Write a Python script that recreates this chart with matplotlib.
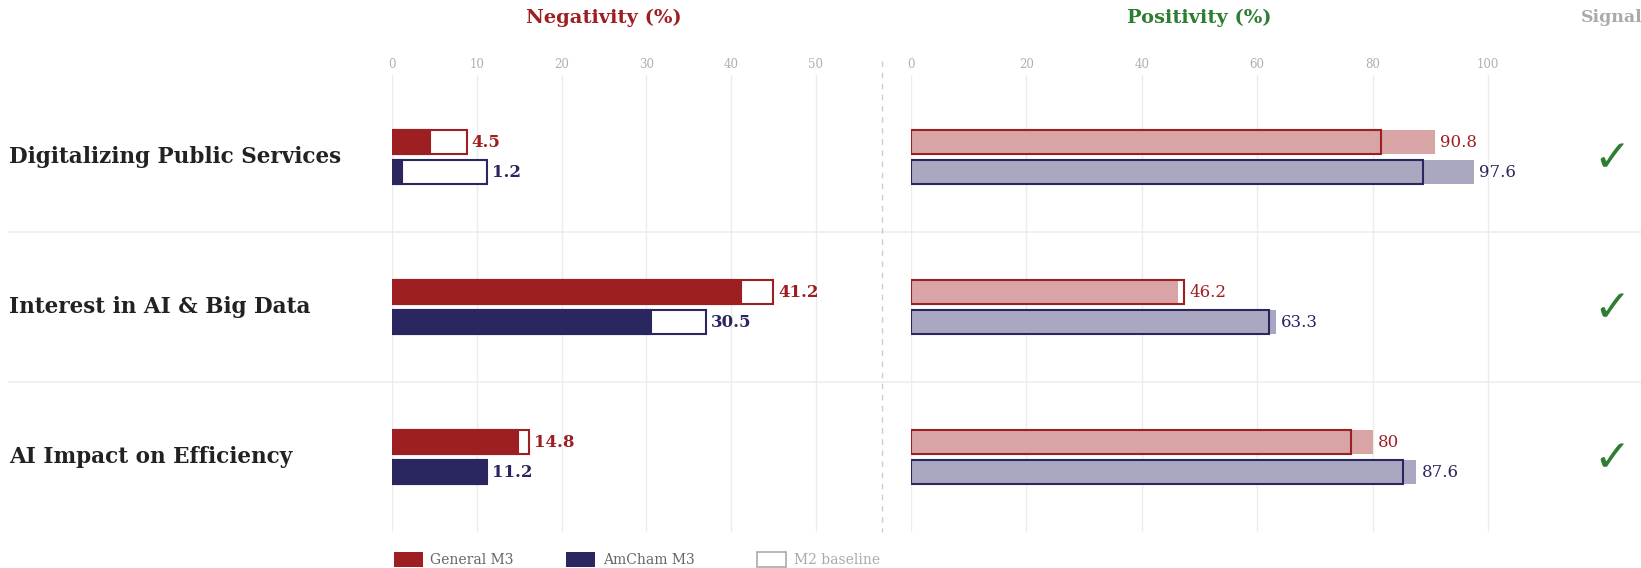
import numpy as np
import matplotlib.pyplot as plt
from matplotlib.patches import Rectangle
from matplotlib.lines import Line2D

# survey topics and scores (%)
topics = ['Digitalizing Public Services', 'Interest in AI & Big Data', 'AI Impact on Efficiency']
neg_general_m3 = [4.5, 41.2, 14.8]
neg_amcham_m3 = [1.2, 30.5, 11.2]
neg_general_m2 = [8.8, 45.0, 16.1]
neg_amcham_m2 = [11.2, 37.0, 10.5]
pos_general_m3 = [90.8, 46.2, 80]
pos_amcham_m3 = [97.6, 63.3, 87.6]
pos_general_m2 = [81.5, 47.4, 76.3]
pos_amcham_m2 = [88.8, 62.0, 85.2]
signals = ['✓', '✓', '✓']
neg_ticks = [0, 10, 20, 30, 40, 50]
pos_ticks = [0, 20, 40, 60, 80, 100]

RED = '#9e1f22'
NAVY = '#2a2660'
RED_LIGHT = '#d8a4a6'
NAVY_LIGHT = '#aaa8c0'
GREEN = '#2e7d32'
GRID = '#ececec'
SERIF = 'DejaVu Serif'

W, H = 1641, 568
fig = plt.figure(figsize=(W / 100, H / 100), dpi=100)
plt.rcParams['font.family'] = SERIF


def fx(px):
    return px / W


def fy(py):
    return 1 - py / H


def fmt(v):
    return f'{v:g}'


# axes placement in pixels
top, bottom = 75, 532
ylim = (2.5, -0.547)
neg_left, neg_scale = 392.3, 8.468
pos_left, pos_scale = 911.0, 5.77
neg_right, pos_right = 860, 1560

ax_neg = fig.add_axes([fx(neg_left), fy(bottom), fx(neg_right - neg_left), (bottom - top) / H])
ax_pos = fig.add_axes([fx(pos_left), fy(bottom), fx(pos_right - pos_left), (bottom - top) / H])
ax_neg.set_xlim(0, (neg_right - neg_left) / neg_scale)
ax_pos.set_xlim(0, (pos_right - pos_left) / pos_scale)

y = np.arange(len(topics))
off, bh = 0.1, 0.163

for ax, ticks in [(ax_neg, neg_ticks), (ax_pos, pos_ticks)]:
    ax.set_ylim(*ylim)
    ax.patch.set_alpha(0)
    for s in ax.spines.values():
        s.set_visible(False)
    ax.set_yticks([])
    ax.xaxis.tick_top()
    ax.set_xticks(ticks)
    ax.tick_params(axis='x', length=0, pad=3, labelsize=8.5, labelcolor='#b0b0b0')
    for t in ticks:
        ax.axvline(t, color=GRID, lw=1, zorder=0)

# negativity: white M2 outline under solid M3
for m3, m2, col, dy in [(neg_general_m3, neg_general_m2, RED, -off),
                        (neg_amcham_m3, neg_amcham_m2, NAVY, off)]:
    ax_neg.barh(y + dy, m2, height=bh, color='white', edgecolor=col, lw=1.5, zorder=2)
    ax_neg.barh(y + dy, m3, height=bh, color=col, edgecolor=col, lw=1.5, zorder=3)
    for yi, a, b in zip(y, m3, m2):
        ax_neg.annotate(fmt(a), (max(a, b), yi + dy), xytext=(5, 0), textcoords='offset pixels',
                        va='center', ha='left', color=col, fontsize=12, fontweight='bold')

# positivity: light M3 fill with M2 outline on top
for m3, m2, col, light, dy in [(pos_general_m3, pos_general_m2, RED, RED_LIGHT, -off),
                               (pos_amcham_m3, pos_amcham_m2, NAVY, NAVY_LIGHT, off)]:
    ax_pos.barh(y + dy, m3, height=bh, color=light, lw=0, zorder=2)
    ax_pos.barh(y + dy, m2, height=bh, color='none', edgecolor=col, lw=1.5, zorder=3)
    for yi, a, b in zip(y, m3, m2):
        ax_pos.annotate(fmt(a), (max(a, b), yi + dy), xytext=(5, 0), textcoords='offset pixels',
                        va='center', ha='left', color=col, fontsize=12)

# column headers
fig.text(fx(604), fy(18), 'Negativity (%)', ha='center', va='center', fontsize=14,
         fontweight='bold', color=RED)
fig.text(fx(1199), fy(18), 'Positivity (%)', ha='center', va='center', fontsize=14,
         fontweight='bold', color=GREEN)
fig.text(fx(1612), fy(18), 'Signal', ha='center', va='center', fontsize=12.5,
         fontweight='bold', color='#aaaaaa')

# topic labels, row separators, signal marks
centers = [157, 307, 457]
for name, cy, sig in zip(topics, centers, signals):
    fig.text(fx(9), fy(cy), name, ha='left', va='center', fontsize=15.5,
             fontweight='bold', color='#222222')
    fig.text(fx(1612), fy(cy + 2), sig, ha='center', va='center', fontsize=32,
             color=GREEN, family='DejaVu Sans')
for sy in [232, 382]:
    fig.add_artist(Line2D([fx(9), 1], [fy(sy), fy(sy)], color='#eeeeee', lw=1.2, zorder=0))

# divider between panels
fig.add_artist(Line2D([fx(882), fx(882)], [fy(61), fy(bottom)], color='#cccccc',
                      lw=1, ls=(0, (4, 4)), zorder=0))

# legend
legend_items = [(393.5, 'General M3', RED, RED, '#666666'),
                (566, 'AmCham M3', NAVY, NAVY, '#666666'),
                (757, 'M2 baseline', 'white', '#aaaaaa', '#aaaaaa')]
for lx, label, face, edge, tcol in legend_items:
    fig.add_artist(Rectangle((fx(lx), fy(567)), fx(29), 15 / H, facecolor=face,
                             edgecolor=edge, lw=1.2 if face == 'white' else 0))
    fig.text(fx(lx + 37), fy(560), label, ha='left', va='center', fontsize=10, color=tcol)

fig.savefig('out.png', dpi=100)
